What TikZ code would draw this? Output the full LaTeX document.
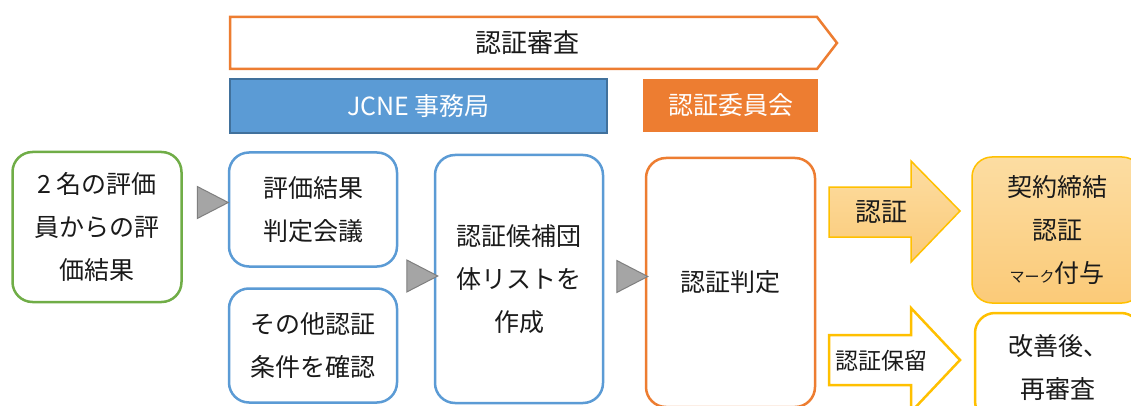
\documentclass[tikz,border=0pt]{standalone}
\usepackage{fontspec}
\setmainfont{Noto Sans CJK JP}
\usetikzlibrary{shapes.geometric}
\definecolor{cblue}{HTML}{5B9BD5}
\definecolor{cbluedk}{HTML}{41719C}
\definecolor{corange}{HTML}{ED7D31}
\definecolor{cgreen}{HTML}{70AD47}
\definecolor{cgold}{HTML}{FFC000}
\definecolor{cgray}{HTML}{A5A5A5}
\definecolor{cgraydk}{HTML}{7F7F7F}
\definecolor{ctxt}{HTML}{1A1A1A}
\definecolor{clighttop}{HTML}{FCDDA2}
\definecolor{clightbot}{HTML}{FBCA78}
\begin{document}
\begin{tikzpicture}[x=1pt,y=-1pt,
  txt/.style={text=ctxt,font=\fontsize{25}{43}\selectfont,align=center},
  rbox/.style={txt,draw,line width=2.5pt,rounded corners=20pt,fill=white,inner sep=0pt},
  bluebox/.style={rbox,draw=cblue},
  tri/.style={isosceles triangle,isosceles triangle stretches,fill=cgray,draw=cgraydk,line width=1pt,minimum width=32pt,minimum height=31pt,inner sep=0pt}
]
\path[use as bounding box,fill=white] (0,0) rectangle (1131,406);
\clip (0,0) rectangle (1131,406);

% top process arrow
\draw[corange,line width=2.5pt,fill=white] (230,17) -- (817,17) -- (837,43) -- (817,69) -- (230,69) -- cycle;
\node[txt,font=\fontsize{26}{30}\selectfont] (shinsa) at (527,43) {認証審査};

% header boxes
\node[draw=cbluedk,fill=cblue,line width=1.5pt,minimum width=377pt,minimum height=54pt,inner sep=0pt,text=white,font=\fontsize{25}{30}\selectfont] (jcne) at (418.5,106) {JCNE 事務局};
\node[fill=corange,minimum width=175pt,minimum height=53pt,inner sep=0pt,text=white,font=\fontsize{25}{30}\selectfont] (iinkai) at (730.5,105.5) {認証委員会};

% flow boxes
\node[rbox,draw=cgreen,minimum width=169pt,minimum height=150pt] (eval) at (97,227) {2\,名の評価\\員からの評\\価結果};
\node[bluebox,minimum width=168pt,minimum height=114pt] (kaigi) at (313,209.5) {評価結果\\判定会議};
\node[bluebox,minimum width=168pt,minimum height=114pt] (joken) at (313,345.5) {その他認証\\条件を確認};
\node[bluebox,minimum width=168pt,minimum height=248pt] (list) at (519,279) {認証候補団\\体リストを\\作成};
\node[rbox,draw=corange,minimum width=169pt,minimum height=249pt] (hantei) at (730.5,282.5) {認証判定};

% gray triangles
\node[tri] (t1) at (207,202.5) {};
\node[tri] (t2) at (416.5,276) {};
\node[tri] (t3) at (626.5,276.5) {};

% result arrows
\draw[cgold,line width=1.5pt,top color=clighttop,bottom color=clightbot] (829,187) -- (911,187) -- (911,161) -- (960,211) -- (911,262) -- (911,237) -- (829,237) -- cycle;
\node[txt,font=\fontsize{26}{30}\selectfont] (ninsho) at (881,212) {認証};
\draw[cgold,line width=2.5pt,fill=white] (829,335) -- (911,335) -- (911,308) -- (960,360) -- (911,412) -- (911,385) -- (829,385) -- cycle;
\node[txt,font=\fontsize{23}{26}\selectfont] (horyu) at (881,361) {認証保留};

% result boxes
\node[txt,draw=cgold,line width=1.5pt,rounded corners=20pt,top color=clighttop,bottom color=clightbot,inner sep=0pt,minimum width=170pt,minimum height=146pt] (keiyaku) at (1057,230) {契約締結\\認証\\{\fontsize{15}{18}\selectfont マーク}付与};
\node[rbox,draw=cgold,minimum width=166pt,minimum height=108pt] (kaizen) at (1058,367) {改善後、\\再審査};
\end{tikzpicture}
\end{document}
